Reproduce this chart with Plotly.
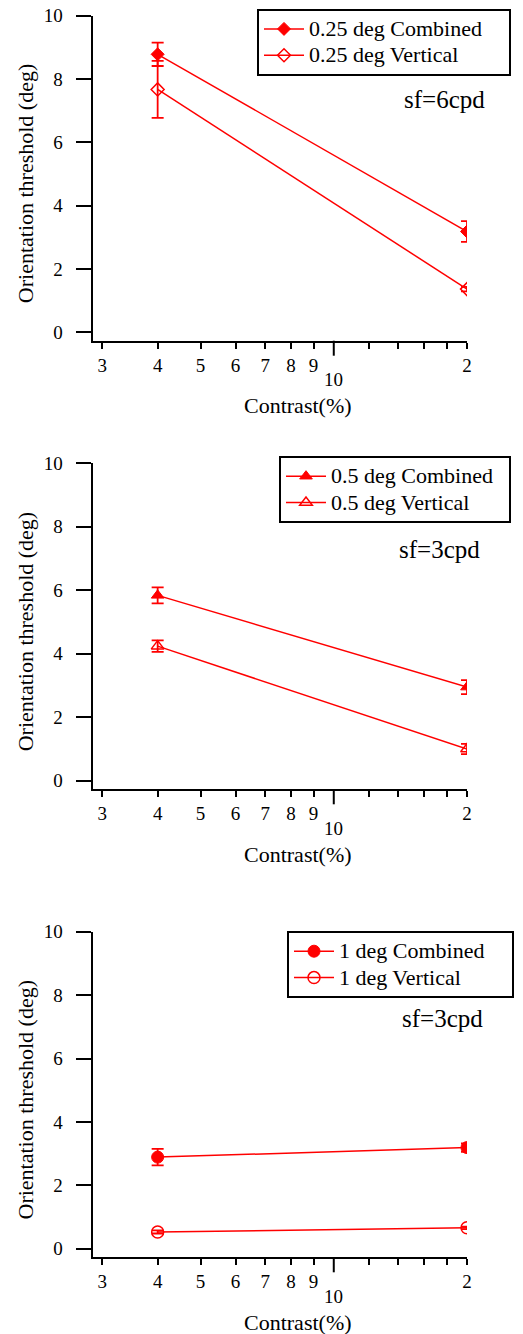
import numpy as np
import plotly.graph_objects as go

W, H = 523, 1334

contrast = [4, 20]

comb_025 = [8.78, 3.18]
comb_025_err = [0.37, 0.33]
vert_025 = [7.67, 1.36]
vert_025_err = [0.90, 0.07]

comb_05 = [5.84, 2.95]
comb_05_err = [0.25, 0.22]
vert_05 = [4.24, 1.00]
vert_05_err = [0.18, 0.16]

comb_1 = [2.89, 3.19]
comb_1_err = [0.26, 0.13]
vert_1 = [0.53, 0.66]
vert_1_err = [0.05, 0.04]

x_tickvals = [3, 4, 5, 6, 7, 8, 9, 12, 14, 16, 18, 20]
x_ticktext = ["3", "4", "5", "6", "7", "8", "9", "", "", "", "", "2"]
y_tickvals = [0, 2, 4, 6, 8, 10]

panels = [
    dict(name="0.25 deg", sym="diamond", size=10, comb=comb_025, ce=comb_025_err,
         vert=vert_025, ve=vert_025_err, sf="sf=6cpd", top=15.7, bot=340.7,
         leg=(257, 8.7), pad="\u2003", sfpos=(444, 100)),
    dict(name="0.5 deg", sym="triangle-up", size=11, comb=comb_05, ce=comb_05_err,
         vert=vert_05, ve=vert_05_err, sf="sf=3cpd", top=463.3, bot=789.3,
         leg=(279, 456), pad="\u2002", sfpos=(439, 550)),
    dict(name="1 deg", sym="circle", size=12, comb=comb_1, ce=comb_1_err,
         vert=vert_1, ve=vert_1_err, sf="sf=3cpd", top=931.7, bot=1257.3,
         leg=(287, 931), pad="\u2003", sfpos=(442, 1018)),
]

RED = "#ff0000"
FONT = "Liberation Serif"
XL, XR = 92.5, 467
xdom = [XL / W, XR / W]
xrange = [np.log10(2.85), np.log10(20)]
yrange = [-0.27, 10]


def big(s):
    return '<span style="font-size:22px">' + s + '</span>'


fig = go.Figure()
annotations = []
shapes = []
layout = dict(width=W, height=H, margin=dict(l=0, r=0, t=0, b=0, autoexpand=False),
              plot_bgcolor="white", paper_bgcolor="white",
              font=dict(family=FONT, size=19, color="black"))

for i, p in enumerate(panels):
    k = "" if i == 0 else str(i + 1)
    xa, ya = "x" + k, "y" + k
    legname = "legend" + k
    ydom = [1 - p["bot"] / H, 1 - p["top"] / H]
    fig.add_trace(go.Scatter(
        x=contrast, y=p["comb"], mode="lines+markers",
        name=big(p["name"] + " Combined" + p["pad"]),
        xaxis=xa, yaxis=ya, legend=legname,
        line=dict(color=RED, width=1.5),
        marker=dict(symbol=p["sym"], size=p["size"], color=RED, line=dict(color=RED, width=1)),
        error_y=dict(type="data", array=p["ce"], visible=True, color=RED, thickness=1.8, width=6)))
    fig.add_trace(go.Scatter(
        x=contrast, y=p["vert"], mode="lines+markers", name=big(p["name"] + " Vertical"),
        xaxis=xa, yaxis=ya, legend=legname,
        line=dict(color=RED, width=1.5),
        marker=dict(symbol=p["sym"] + "-open", size=p["size"], color=RED, line=dict(color=RED, width=1.5)),
        error_y=dict(type="data", array=p["ve"], visible=True, color=RED, thickness=1.8, width=6)))

    layout["xaxis" + k] = dict(
        type="log", range=xrange, domain=xdom, anchor=ya, automargin=False,
        tickmode="array", tickvals=x_tickvals, ticktext=x_ticktext,
        ticks="outside", ticklen=6, tickwidth=1.5, tickcolor="black",
        showline=True, linecolor="black", linewidth=2, showgrid=False, zeroline=False,
        tickfont=dict(family=FONT, size=19, color="black"), ticklabelstandoff=0)
    layout["yaxis" + k] = dict(
        range=yrange, domain=ydom, anchor=xa, automargin=False,
        tickmode="array", tickvals=y_tickvals,
        ticks="outside", ticklen=15, tickwidth=1.5, tickcolor="black",
        showline=True, linecolor="black", linewidth=2, showgrid=False, zeroline=False,
        tickfont=dict(family=FONT, size=19, color="black"), ticklabelstandoff=9)
    layout[legname] = dict(
        x=p["leg"][0] / W, y=1 - p["leg"][1] / H, xanchor="left", yanchor="top",
        bordercolor="black", borderwidth=2, bgcolor="white",
        font=dict(family=FONT, size=18, color="black"),
        tracegroupgap=0, itemwidth=40)

    axis_y = 1 - p["bot"] / H
    shapes.append(dict(type="line", xref=xa, yref="paper", x0=10, x1=10,
                       y0=axis_y, y1=axis_y - 15 / H,
                       line=dict(color="black", width=2)))
    annotations.append(dict(text="10", xref=xa, yref="paper", x=np.log10(10),
                            y=1 - (p["bot"] + 39) / H, showarrow=False,
                            xanchor="center", yanchor="middle",
                            font=dict(family=FONT, size=19, color="black")))
    annotations.append(dict(text="Contrast(%)", xref="paper", yref="paper",
                            x=298 / W, y=1 - (p["bot"] + 65) / H, showarrow=False,
                            xanchor="center", yanchor="middle",
                            font=dict(family=FONT, size=22, color="black")))
    annotations.append(dict(text="Orientation threshold (deg)", xref="paper", yref="paper",
                            x=25 / W, y=1 - ((p["top"] + p["bot"]) / 2 + 5) / H,
                            textangle=-90, showarrow=False,
                            xanchor="center", yanchor="middle",
                            font=dict(family=FONT, size=22, color="black")))
    annotations.append(dict(text=p["sf"], xref="paper", yref="paper",
                            x=p["sfpos"][0] / W, y=1 - p["sfpos"][1] / H, showarrow=False,
                            xanchor="center", yanchor="middle",
                            font=dict(family=FONT, size=25, color="black")))

layout["annotations"] = annotations
layout["shapes"] = shapes
layout["showlegend"] = True
fig.update_layout(**layout)
fig.write_html("out.html")
